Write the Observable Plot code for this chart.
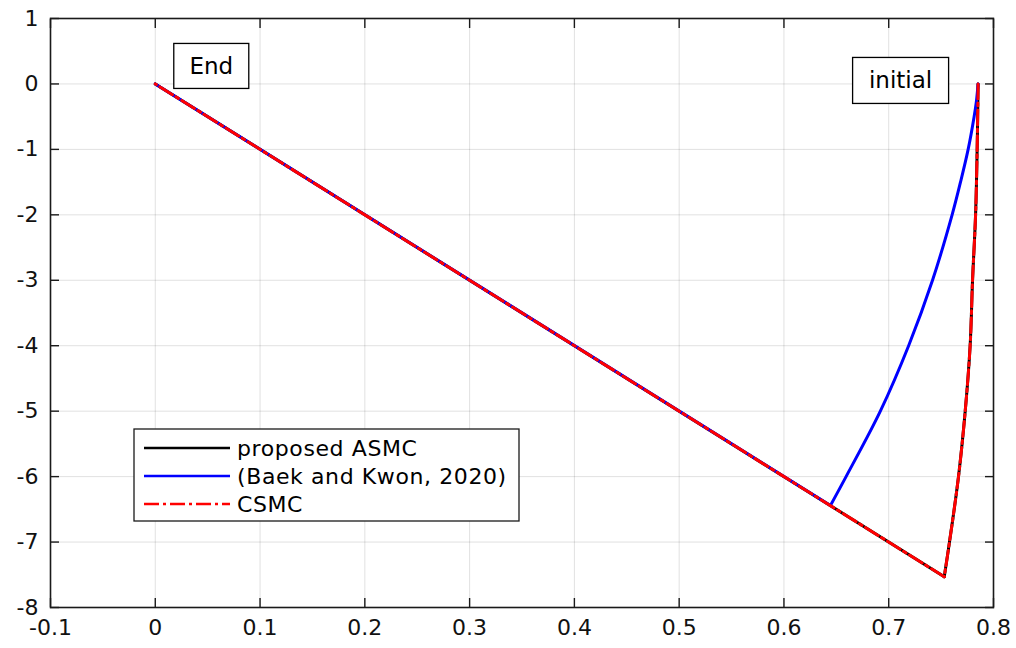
<!DOCTYPE html>
<html>
<head>
<meta charset="utf-8">
<script src="https://cdn.jsdelivr.net/npm/d3@7"></script>
<script src="https://cdn.jsdelivr.net/npm/@observablehq/plot@0.6"></script>
<style>
  html, body { margin: 0; padding: 0; background: #fff; }
  #chart svg { font-family: "DejaVu Sans", sans-serif; }
</style>
</head>
<body>
<div id="chart"></div>
<script>
// ---- data ----
const asmcX = [0.7853, 0.7849, 0.7844, 0.7829, 0.780, 0.7777, 0.773, 0.7666, 0.758, 0.753, 0];
const asmcY = [0, -0.5, -1, -2, -3, -4, -5, -6, -7, -7.53, 0];
const baekX = [0.7853, 0.7838, 0.7815, 0.7758, 0.7685, 0.7605, 0.7418, 0.719, 0.692, 0.6593, 0.6444, 0];
const baekY = [0, -0.25, -0.5, -1, -1.5, -2, -3, -4, -5, -6, -6.44, 0];
const csmcX = [0.7853, 0.7849, 0.7844, 0.7829, 0.780, 0.7777, 0.773, 0.7666, 0.758, 0.753, 0];
const csmcY = [0, -0.5, -1, -2, -3, -4, -5, -6, -7, -7.53, 0];
const xTicks = [-0.1, 0, 0.1, 0.2, 0.3, 0.4, 0.5, 0.6, 0.7, 0.8];
const yTicks = [1, 0, -1, -2, -3, -4, -5, -6, -7, -8];
const seriesNames = ["proposed ASMC", "(Baek and Kwon, 2020)", "CSMC"];
const seriesColors = ["#000000", "#0000ff", "#ff0000"];
const seriesDash = [null, null, "15,4,3,4"];
const annotations = [{label: "End", x: 0, y: 0}, {label: "initial", x: 0.7853, y: 0}];

const toRows = (xs, ys) => xs.map((x, i) => ({x, y: ys[i]}));
const series = [toRows(asmcX, asmcY), toRows(baekX, baekY), toRows(csmcX, csmcY)];

const fmt = d => d === 0 ? "0" : String(d);

// each trajectory: a curved descent (smooth) followed by a straight sliding segment
const lineMarks = [];
series.forEach((rows, i) => {
  const n = rows.length;
  const curved = rows.slice(0, n - 1);
  const straight = rows.slice(n - 2);
  const opts = {x: "x", y: "y", stroke: seriesColors[i], strokeWidth: 3};
  if (seriesDash[i]) opts.strokeDasharray = seriesDash[i];
  lineMarks.push(Plot.line(curved, {...opts, curve: "catmull-rom"}));
  lineMarks.push(Plot.line(straight, {...opts, curve: "linear"}));
});

const plot = Plot.plot({
  width: 1016,
  height: 648,
  marginLeft: 50,
  marginRight: 23,
  marginTop: 18,
  marginBottom: 41,
  style: {background: "#fff", fontFamily: "DejaVu Sans, sans-serif"},
  x: {domain: [-0.1, 0.8], label: null},
  y: {domain: [-8, 1], label: null},
  marks: [
    Plot.gridX(xTicks, {stroke: "#000", strokeOpacity: 0.12, strokeWidth: 1}),
    Plot.gridY(yTicks, {stroke: "#000", strokeOpacity: 0.12, strokeWidth: 1}),
    ...lineMarks,
    Plot.frame({stroke: "#1a1a1a", strokeWidth: 1.6}),
    Plot.axisX(xTicks, {anchor: "bottom", tickSize: -9, text: null, label: null, stroke: "#1a1a1a", strokeWidth: 1.4}),
    Plot.axisX(xTicks, {anchor: "top", tickSize: -9, text: null, label: null, stroke: "#1a1a1a", strokeWidth: 1.4}),
    Plot.axisY(yTicks, {anchor: "left", tickSize: -9, text: null, label: null, stroke: "#1a1a1a", strokeWidth: 1.4}),
    Plot.axisY(yTicks, {anchor: "right", tickSize: -9, text: null, label: null, stroke: "#1a1a1a", strokeWidth: 1.4}),
    Plot.axisX(xTicks, {anchor: "bottom", tickSize: 0, tickPadding: 12, tickFormat: fmt, fontSize: 22, fill: "#111", label: null}),
    Plot.axisY(yTicks, {anchor: "left", tickSize: 0, tickPadding: 12, tickFormat: fmt, fontSize: 22, fill: "#111", label: null})
  ]
});

document.getElementById("chart").appendChild(plot);

// ---- annotations and legend (layout only) ----
const svg = d3.select(plot);
const sx = plot.scale("x"), sy = plot.scale("y");

const annOffsets = {End: {dx: 19, dy: -40, w: 75, h: 45}, initial: {dx: -125, dy: -26, w: 96, h: 46}};
annotations.forEach(a => {
  const o = annOffsets[a.label];
  const px = sx.apply(a.x) + o.dx, py = sy.apply(a.y) + o.dy;
  const g = svg.append("g");
  g.append("rect").attr("x", px).attr("y", py).attr("width", o.w).attr("height", o.h)
    .attr("fill", "#fff").attr("stroke", "#000").attr("stroke-width", 1.3);
  g.append("text").attr("x", px + o.w / 2).attr("y", py + o.h / 2)
    .attr("text-anchor", "middle").attr("dominant-baseline", "central")
    .attr("font-size", 23).attr("fill", "#000").text(a.label);
});

// legend box
const lx = sx.apply(-0.1) + 84, ly = sy.apply(1) + 411;
const lg = svg.append("g");
lg.append("rect").attr("x", lx).attr("y", ly).attr("width", 385).attr("height", 92)
  .attr("fill", "#fff").attr("stroke", "#1a1a1a").attr("stroke-width", 1.3);
seriesNames.forEach((name, i) => {
  const cy = ly + 19 + i * 28;
  const ln = lg.append("line").attr("x1", lx + 10).attr("x2", lx + 96).attr("y1", cy).attr("y2", cy)
    .attr("stroke", seriesColors[i]).attr("stroke-width", 2.5);
  if (seriesDash[i]) ln.attr("stroke-dasharray", seriesDash[i]);
  lg.append("text").attr("x", lx + 103).attr("y", cy).attr("text-anchor", "start")
    .attr("dominant-baseline", "central").attr("letter-spacing", 0.6)
    .attr("font-size", 22).attr("fill", "#000").text(name);
});
</script>
</body>
</html>
